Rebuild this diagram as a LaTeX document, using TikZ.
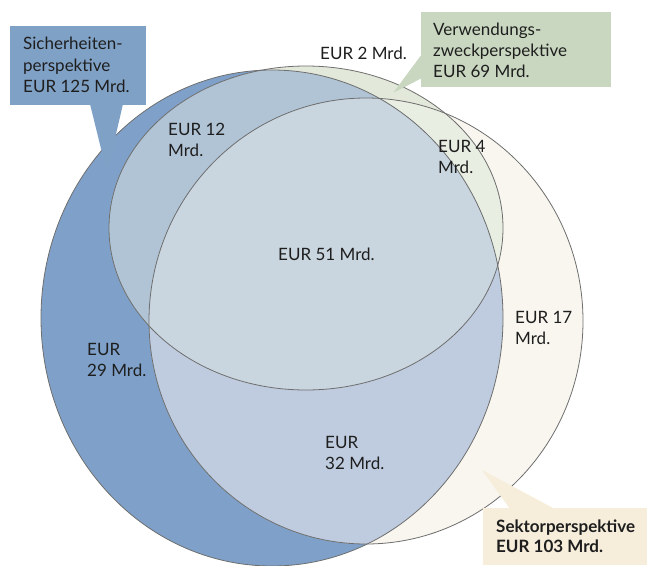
\documentclass[tikz,border=0pt]{standalone}
\usepackage{fontspec}
\setmainfont{Lato}
\definecolor{cB}{HTML}{7FA1C9}
\definecolor{cBox}{HTML}{80A1C6}
\definecolor{c12}{HTML}{B1C4D6}
\definecolor{c51}{HTML}{C9D6DF}
\definecolor{c32}{HTML}{BFCCDF}
\definecolor{c2}{HTML}{E2E8DA}
\definecolor{c4}{HTML}{E9EEE3}
\definecolor{c17}{HTML}{F8F6EE}
\definecolor{cGBox}{HTML}{C9D7C0}
\definecolor{cSBox}{HTML}{F6EEDB}
\definecolor{cLine}{HTML}{6E6E6E}
\definecolor{cText}{HTML}{1E1E1E}
\tikzset{
  outline/.style={draw=cLine, line width=0.8pt},
  lbl/.style={anchor=north west, inner sep=0pt, align=left, text=cText,
    font=\fontsize{17}{21}\selectfont},
  boxlbl/.style={lbl, font=\fontsize{17}{21.5}\selectfont},
}
\def\blueE{(272,318) ellipse [x radius=231pt, y radius=248pt]}
\def\greenE{(306,228) ellipse [x radius=197pt, y radius=162pt]}
\def\sekE{(366,321) ellipse [x radius=217pt, y radius=223pt]}
\begin{document}
\begin{tikzpicture}[x=1pt, y=-1pt]
\useasboundingbox (0,0) rectangle (647,565);
% regions
\fill[cB] \blueE;
\fill[c17] \sekE;
\begin{scope}
  \clip \blueE;
  \fill[c32] \sekE;
\end{scope}
\fill[c2] \greenE;
\begin{scope}
  \clip \greenE;
  \fill[c4] \sekE;
  \fill[c12] \blueE;
  \clip \blueE;
  \fill[c51] \sekE;
\end{scope}
% outlines
\draw[outline] \blueE;
\draw[outline] \sekE;
\draw[outline] \greenE;
% callouts
\fill[cBox] (10,26) rectangle (146,105);
\fill[cBox] (90,104) -- (123,104) -- (107,173) -- cycle;
\fill[cGBox] (421,12) rectangle (611,87);
\fill[cGBox] (422,54) -- (422,78) -- (393,93) -- cycle;
\fill[cSBox] (483,508) rectangle (647,565);
\fill[cSBox] (510,509) -- (555,509) -- (482,470) -- cycle;
% box labels
\node[boxlbl] (sich) at (23,37) {Sicherheiten-\\perspektive\\EUR 125 Mrd.};
\node[boxlbl, font=\fontsize{17}{21}\selectfont] (verw) at (433,23) {Verwendungs-\\zweckperspektive\\EUR 69 Mrd.};
\node[boxlbl, font=\bfseries\fontsize{17}{20}\selectfont] (sekt) at (496,520) {Sektorperspektive\\EUR 103 Mrd.};
% region labels
\node[lbl] (r2) at (320,47) {EUR 2 Mrd.};
\node[lbl] (r12) at (168,123) {EUR 12\\Mrd.};
\node[lbl] (r4) at (438,140) {EUR 4\\Mrd.};
\node[lbl] (r51) at (278,248) {EUR 51 Mrd.};
\node[lbl] (r17) at (515,311) {EUR 17\\Mrd.};
\node[lbl] (r29) at (87,343) {EUR\\29 Mrd.};
\node[lbl] (r32) at (325,436) {EUR\\32 Mrd.};
\end{tikzpicture}
\end{document}
